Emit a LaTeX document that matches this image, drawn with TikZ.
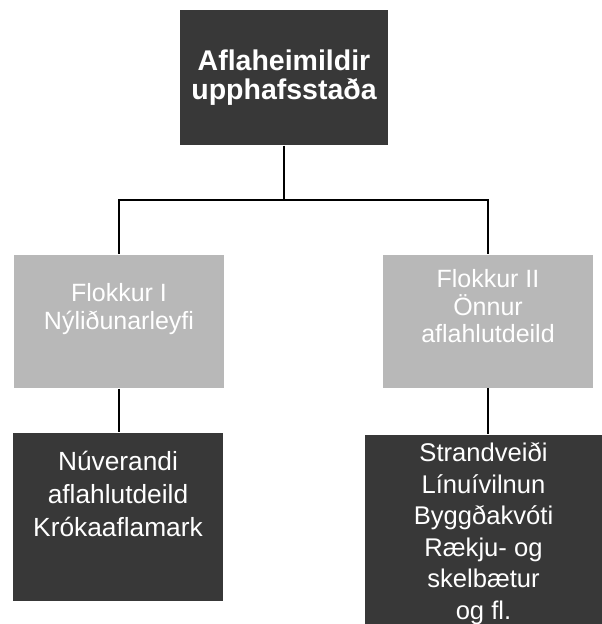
\documentclass[tikz,border=0pt]{standalone}
\usepackage{fontspec}
\setmainfont{Liberation Sans}
\usetikzlibrary{positioning}

\begin{document}
\begin{tikzpicture}[x=1bp,y=-1bp,line width=1.2bp]
  \tikzstyle{box}=[inner sep=0pt,align=center,text=white]
  \tikzstyle{head}=[box,fill=black!78,font=\fontsize{28.5bp}{29bp}\selectfont\bfseries]
  \tikzstyle{light}=[box,fill=black!28,minimum width=210bp,minimum height=133bp,
                     font=\fontsize{25bp}{27.5bp}\selectfont]
  \tikzstyle{dark}=[box,fill=black!78]

  \useasboundingbox (0,0) rectangle (602,624);

  \node[head,minimum width=208bp,minimum height=135bp] (top) at (284,77.5)
    {Aflaheimildir\\upphafsstaða};

  \node[light] (left) at (119,321.5) {Flokkur I\\Nýliðunarleyfi\\[2.5bp]\mbox{}};
  \node[light] (right) at (488,321) {Flokkur II\\Önnur\\aflahlutdeild\\[2.5bp]\mbox{}};

  \node[dark,minimum width=210bp,minimum height=168bp,
        font=\fontsize{26.3bp}{33bp}\selectfont] (left-low) at (118,517)
    {Núverandi\\aflahlutdeild\\Krókaaflamark\\[13bp]\mbox{}};
  \node[dark,minimum width=237bp,minimum height=197bp,
        font=\fontsize{25.6bp}{31.5bp}\selectfont] (right-low) at (483.5,533.5)
    {Strandveiði\\Línuívilnun\\Byggðakvóti\\Rækju- og\\skelbætur\\og fl.};

  \coordinate (split) at (284,200);
  \draw (top.south) -- (split);
  \foreach \to in {left,right}
    \draw (split) -| (\to.north);

  \draw (left.south) -- (left.south |- left-low.north);
  \draw (right.south) -- (right.south |- right-low.north);
\end{tikzpicture}
\end{document}
